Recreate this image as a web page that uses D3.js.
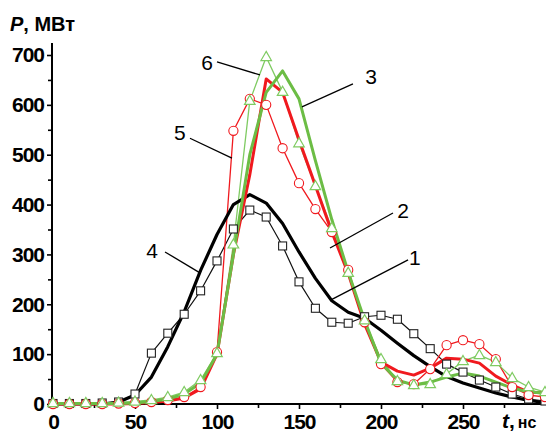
<!DOCTYPE html>
<html>
<head>
<meta charset="utf-8">
<script src="https://cdn.jsdelivr.net/npm/d3@7"></script>
<style>
  body { margin: 0; background: #fff; }
  svg { display: block; font-family: "Liberation Sans", Arial, sans-serif; }
</style>
</head>
<body>
<svg id="chart" width="546" height="434"></svg>
<script>
// time, ns (every 10 ns)
var times = d3.range(0, 301, 10);

// 1 - black thick, no markers
var s1 = [0, 0, 0, 0, 4, 18, 54, 115, 185, 268, 340, 400, 420, 403, 362, 305, 252, 207, 184, 172, 148, 122, 97, 75, 55, 42, 32, 22, 14, 7, 3];
// 2 - red thick
var s2 = [0, 0, 0, 0, 0, 1, 3, 6, 12, 30, 100, 300, 460, 652, 625, 530, 438, 345, 262, 160, 84, 66, 58, 72, 92, 90, 82, 56, 38, 24, 22];
// 3 - green thick
var s3 = [1, 1, 1, 1, 1, 2, 5, 10, 20, 42, 100, 300, 500, 625, 668, 612, 488, 370, 265, 168, 82, 48, 38, 44, 54, 62, 56, 44, 32, 24, 22];
// 4 - black thin, squares
var s4 = [1, 1, 1, 2, 4, 20, 102, 142, 180, 227, 287, 351, 389, 375, 317, 245, 192, 164, 162, 175, 178, 170, 141, 111, 80, 64, 48, 34, 20, 10, 6];
// 5 - red thin, circles
var s5 = [0, 0, 0, 0, 1, 2, 4, 8, 14, 34, 104, 548, 612, 600, 513, 443, 391, 345, 269, 164, 80, 44, 40, 70, 118, 128, 120, 90, 34, 18, 14];
// 6 - green thin, triangles
var s6 = [2, 2, 2, 2, 3, 5, 8, 14, 24, 48, 102, 320, 608, 696, 626, 523, 437, 353, 263, 168, 90, 46, 38, 40, 60, 86, 98, 84, 52, 34, 24];

var xMajor = [0, 50, 100, 150, 200, 250];
var xMinor = [25, 75, 125, 175, 225, 275];
var yMajor = [0, 100, 200, 300, 400, 500, 600, 700];
var yMinor = [50, 150, 250, 350, 450, 550, 650];

// curve labels: [text, label t, label P, leader from t, P, leader to t, P]
var labels = [
  ["6", 93.9, 686, 100, 686, 126.2, 660],
  ["5", 77.4, 545, 83.5, 533, 109.1, 493],
  ["3", 193.9, 656, 182.9, 642, 151.8, 596],
  ["2", 213.4, 389, 207.3, 383, 168.9, 313],
  ["1", 220.7, 293, 216.5, 289, 169.5, 209],
  ["4", 60.4, 309, 68.3, 305, 89.6, 263]
];

var red = "#f0191e", green = "#6cbd45", greenLight = "#7fcb62";

var svg = d3.select("#chart");
var x = d3.scaleLinear().domain([0, 300]).range([53, 545]);
var y = d3.scaleLinear().domain([0, 700]).range([404, 55]);

// axes
var gx = svg.append("g").attr("transform", "translate(0," + y(0) + ")");
gx.call(d3.axisBottom(x).tickValues(xMajor).tickSize(5).tickSizeOuter(0).tickPadding(2));
gx.append("g").call(d3.axisBottom(x).tickValues(xMinor).tickSize(4).tickFormat("").tickSizeOuter(0));
gx.selectAll(".domain").remove();
gx.append("line").attr("x1", x(0) - 1).attr("x2", 546).attr("stroke", "#000").attr("stroke-width", 2);

var gy = svg.append("g").attr("transform", "translate(" + (x(0) - 1) + ",0)");
gy.call(d3.axisLeft(y).tickValues(yMajor).tickSize(5).tickSizeOuter(0).tickPadding(3));
gy.append("g").call(d3.axisLeft(y).tickValues(yMinor).tickSize(4).tickFormat("").tickSizeOuter(0));
gy.selectAll(".domain").remove();
gy.append("line").attr("y1", y(0) + 1).attr("y2", y(724)).attr("stroke", "#000").attr("stroke-width", 2);

svg.selectAll(".tick line").attr("stroke", "#000").attr("stroke-width", 1.6);
svg.selectAll(".tick text")
  .attr("fill", "#000")
  .style("font-size", "21px")
  .style("font-weight", "bold")
  .style("letter-spacing", "-1px")
  .style("font-family", "'Liberation Sans', Arial, sans-serif");
gx.selectAll(".tick text").attr("dy", "0.85em");

// axis titles
var ty = svg.append("text").attr("x", 10).attr("y", 31).style("font-size", "20px").style("font-weight", "bold");
ty.append("tspan").style("font-style", "italic").text("P");
ty.append("tspan").text(", МВт");
var tx = svg.append("text").attr("x", 502).attr("y", 428).style("font-weight", "bold");
tx.append("tspan").style("font-style", "italic").style("font-size", "21px").text("t");
tx.append("tspan").style("font-size", "21px").text(",");
tx.append("tspan").attr("dx", 3).style("font-size", "16px").text("нс");

var line = d3.line().x(function(d, i) { return x(times[i]); }).y(function(d) { return y(d); });

function drawLine(data, color, width) {
  svg.append("path").datum(data)
    .attr("d", line)
    .attr("fill", "none")
    .attr("stroke", color)
    .attr("stroke-width", width)
    .attr("stroke-linejoin", "round");
}

// thin series
drawLine(s4, "#111", 1.2);
drawLine(s5, red, 1.3);
drawLine(s6, greenLight, 1.3);
// thick series
drawLine(s1, "#000", 3.2);
drawLine(s2, red, 3);
drawLine(s3, green, 3);

// markers
svg.append("g").selectAll("rect").data(s4).join("rect")
  .attr("x", function(d, i) { return x(times[i]) - 4; })
  .attr("y", function(d) { return y(d) - 4; })
  .attr("width", 8).attr("height", 8)
  .attr("fill", "#fff").attr("stroke", "#222").attr("stroke-width", 1.1);

svg.append("g").selectAll("circle").data(s5).join("circle")
  .attr("cx", function(d, i) { return x(times[i]); })
  .attr("cy", function(d) { return y(d); })
  .attr("r", 4.6)
  .attr("fill", "#fff").attr("stroke", red).attr("stroke-width", 1.1);

var tri = d3.symbol().type(d3.symbolTriangle).size(48);
svg.append("g").selectAll("path").data(s6).join("path")
  .attr("d", tri)
  .attr("transform", function(d, i) { return "translate(" + x(times[i]) + "," + (y(d) + 0.5) + ")"; })
  .attr("fill", "#fff").attr("stroke", greenLight).attr("stroke-width", 1.2);

// curve numbers with leaders
labels.forEach(function(l) {
  svg.append("line")
    .attr("x1", x(l[3])).attr("y1", y(l[4]))
    .attr("x2", x(l[5])).attr("y2", y(l[6]))
    .attr("stroke", "#000").attr("stroke-width", 1.3);
  svg.append("text")
    .attr("x", x(l[1])).attr("y", y(l[2]))
    .attr("text-anchor", "middle").attr("dy", "0.36em")
    .style("font-size", "21px")
    .text(l[0]);
});
</script>
</body>
</html>
